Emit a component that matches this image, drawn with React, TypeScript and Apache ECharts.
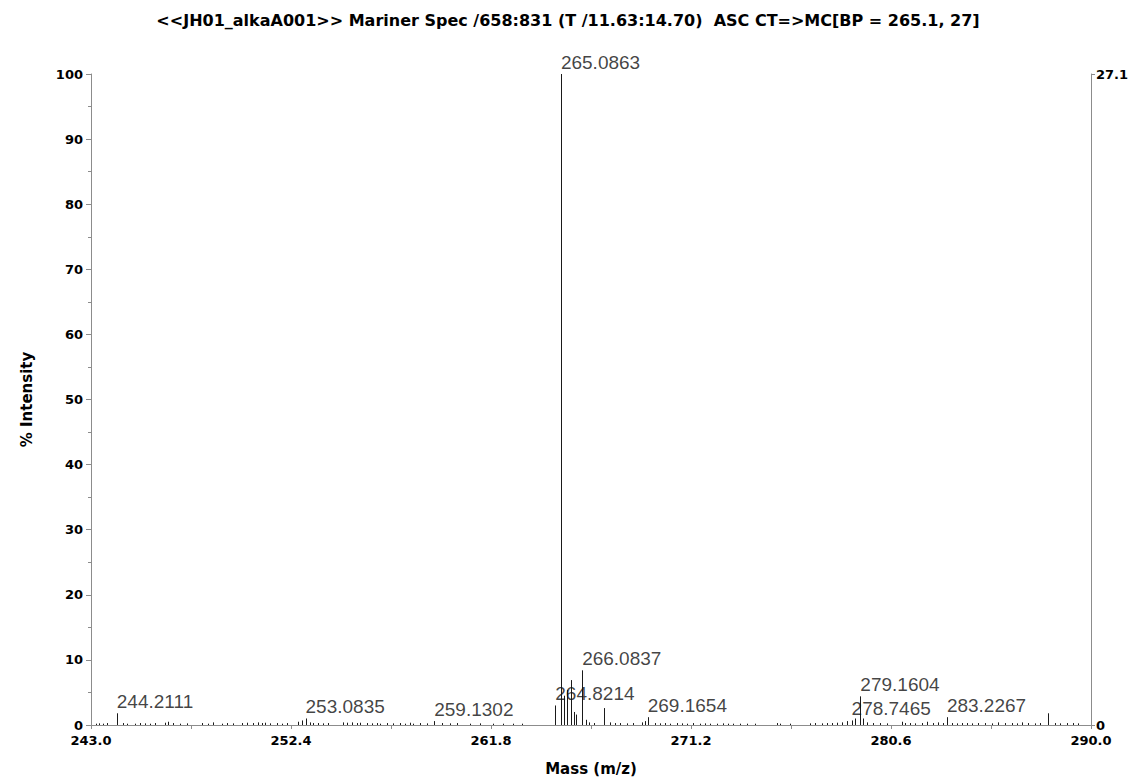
import React, { useEffect, useRef } from "react";
import * as echarts from "echarts";

const titleText =
  "<<JH01_alkaA001>> Mariner Spec /658:831 (T /11.63:14.70)  ASC CT=>MC[BP = 265.1, 27]";

// m/z axis labels and tick marks
const massLabels = [243.0, 252.4, 261.8, 271.2, 280.6, 290.0];
const massTicks = [243.0, 247.7, 252.4, 257.1, 261.8, 266.5, 271.2, 275.9, 280.6, 285.3, 290.0];

// Annotated peaks: [m/z, % intensity]
const labeledPeaks: [number, number][] = [
  [244.2111, 1.8],
  [253.0835, 1.0],
  [259.1302, 0.6],
  [264.8214, 3.0],
  [265.0863, 100],
  [266.0837, 8.4],
  [269.1654, 1.2],
  [278.7465, 0.7],
  [279.1604, 4.4],
  [283.2267, 1.2],
];

// Unlabelled peaks: [m/z, % intensity]
const otherPeaks: [number, number][] = [
  [243.22, 0.2], [243.39, 0.25], [243.58, 0.2], [243.74, 0.3],
  [244.49, 0.3], [244.68, 0.2], [245.07, 0.2], [245.3, 0.3], [245.54, 0.25], [245.77, 0.2],
  [246.01, 0.3], [246.48, 0.35], [246.63, 0.5], [246.87, 0.3], [247.18, 0.2], [247.5, 0.25],
  [248.2, 0.3], [248.51, 0.2], [248.75, 0.4], [249.14, 0.2], [249.38, 0.3], [249.69, 0.25],
  [250.08, 0.3], [250.32, 0.35], [250.63, 0.3], [250.86, 0.4], [251.02, 0.3], [251.18, 0.35],
  [251.41, 0.25], [251.73, 0.3], [251.96, 0.2], [252.2, 0.3], [252.74, 0.5], [252.9, 0.7],
  [253.29, 0.4], [253.45, 0.3], [253.68, 0.3], [253.92, 0.25], [254.15, 0.3], [254.86, 0.4],
  [255.02, 0.35], [255.25, 0.4], [255.49, 0.3], [255.64, 0.35], [255.96, 0.3], [256.19, 0.25],
  [256.43, 0.3], [256.58, 0.2], [256.9, 0.3], [257.21, 0.25], [257.52, 0.3], [257.76, 0.2],
  [257.99, 0.35], [258.15, 0.2], [258.46, 0.3], [258.78, 0.25], [259.48, 0.3], [259.87, 0.25],
  [260.19, 0.3], [260.81, 0.2], [261.28, 0.25], [261.91, 0.2], [262.38, 0.2], [262.85, 0.2],
  [263.24, 0.2],
  [265.24, 4.5], [265.37, 5.4], [265.55, 6.9], [265.7, 2.0], [265.81, 1.6], [266.25, 0.8],
  [266.42, 0.4], [266.63, 0.3], [267.12, 2.6], [267.39, 0.4], [267.63, 0.3], [267.86, 0.3],
  [268.18, 0.25], [268.49, 0.3], [268.88, 0.4], [269.04, 0.6],
  [269.51, 0.3], [269.74, 0.25], [269.98, 0.3], [270.21, 0.2], [270.53, 0.3], [270.76, 0.25],
  [271.0, 0.2], [271.31, 0.3], [271.62, 0.2], [271.86, 0.25], [272.09, 0.2], [272.41, 0.2],
  [272.72, 0.25], [272.95, 0.2], [273.19, 0.2], [273.5, 0.2], [273.82, 0.2], [274.21, 0.2],
  [275.23, 0.3], [275.38, 0.2], [275.85, 0.2], [276.79, 0.25], [277.03, 0.3], [277.34, 0.25],
  [277.58, 0.3], [277.81, 0.3], [278.05, 0.35], [278.28, 0.4], [278.52, 0.6], [278.9, 1.0],
  [279.27, 1.0], [279.46, 0.4], [279.77, 0.3], [280.08, 0.3], [280.4, 0.25], [281.1, 0.5],
  [281.26, 0.3], [281.49, 0.3], [281.73, 0.25], [282.04, 0.3], [282.28, 0.5], [282.59, 0.3],
  [282.82, 0.4], [283.06, 0.3], [283.45, 0.3], [283.69, 0.25], [283.92, 0.3], [284.16, 0.3],
  [284.39, 0.25], [284.7, 0.3], [285.02, 0.3], [285.33, 0.25], [285.64, 0.4], [285.96, 0.3],
  [286.27, 0.3], [286.51, 0.25], [286.74, 0.4], [287.05, 0.3], [287.37, 0.25], [287.6, 0.3],
  [287.99, 1.8], [288.31, 0.3], [288.54, 0.25], [288.86, 0.3], [289.17, 0.3], [289.4, 0.25],
];

const axisColor = "#8c8c8c";
const boldFont = "DejaVu Sans";

export default function App() {
  const ref = useRef<HTMLDivElement>(null);

  useEffect(() => {
    document.body.style.margin = "0";
    const chart = echarts.init(ref.current!, undefined, { renderer: "svg" });

    const sticks = [...otherPeaks, ...labeledPeaks];

    chart.setOption({
      animation: false,
      backgroundColor: "#ffffff",
      title: {
        text: titleText,
        left: "center",
        top: 7,
        textStyle: {
          fontFamily: boldFont,
          fontWeight: "bold",
          fontSize: 16,
          color: "#000",
        },
      },
      grid: { left: 91, right: 45, top: 74, bottom: 57, outerBoundsMode: "none" },
      xAxis: {
        type: "value",
        min: 243,
        max: 290,
        name: "Mass (m/z)",
        nameLocation: "middle",
        nameGap: 36,
        nameTextStyle: { fontFamily: boldFont, fontWeight: "bold", fontSize: 15, color: "#000" },
        splitLine: { show: false },
        axisLine: { show: true, lineStyle: { color: axisColor, width: 1 } },
        axisTick: { show: true, length: 4, customValues: massTicks, lineStyle: { color: axisColor } },
        axisLabel: {
          customValues: massLabels,
          formatter: (v: number) => v.toFixed(1),
          fontFamily: boldFont,
          fontWeight: "bold",
          fontSize: 13,
          lineHeight: 14,
          color: "#000",
          margin: 8,
        },
      },
      yAxis: [
        {
          type: "value",
          min: 0,
          max: 100,
          interval: 10,
          position: "left",
          name: "% Intensity",
          nameLocation: "middle",
          nameGap: 57,
          nameTextStyle: { fontFamily: boldFont, fontWeight: "bold", fontSize: 15, color: "#000" },
          splitLine: { show: false },
          axisLine: { show: true, lineStyle: { color: axisColor, width: 1 } },
          axisTick: { show: true, length: 5, lineStyle: { color: axisColor } },
          minorTick: { show: true, splitNumber: 2, length: 3, lineStyle: { color: axisColor } },
          axisLabel: {
            fontFamily: boldFont,
            fontWeight: "bold",
            fontSize: 13,
            lineHeight: 11,
            color: "#000",
            margin: 8,
          },
        },
        {
          type: "value",
          min: 0,
          max: 27.1,
          interval: 27.1,
          position: "right",
          splitLine: { show: false },
          axisLine: { show: true, lineStyle: { color: axisColor, width: 1 } },
          axisTick: { show: true, length: 4, lineStyle: { color: axisColor } },
          axisLabel: {
            formatter: (v: number) => (v === 0 ? "0" : (Math.round(v * 10) / 10).toFixed(1)),
            fontFamily: boldFont,
            fontWeight: "bold",
            fontSize: 13,
            lineHeight: 11,
            color: "#000",
            margin: 5,
          },
        },
      ],
      series: [
        {
          type: "custom",
          name: "spectrum",
          xAxisIndex: 0,
          yAxisIndex: 0,
          clip: true,
          data: sticks,
          renderItem: (_params: any, api: any) => {
            const mz = api.value(0);
            const pct = api.value(1);
            const base = api.coord([mz, 0]);
            const top = api.coord([mz, pct]);
            const x = Math.round(base[0]) + 0.5;
            return {
              type: "line",
              shape: { x1: x, y1: base[1], x2: x, y2: top[1] },
              style: { stroke: "#1a1a1a", lineWidth: 1 },
            };
          },
        },
        {
          type: "scatter",
          name: "peak labels",
          xAxisIndex: 0,
          yAxisIndex: 0,
          symbolSize: 0,
          silent: true,
          data: labeledPeaks,
          label: {
            show: true,
            position: "top",
            distance: 2,
            align: "left",
            formatter: (p: any) => p.value[0].toFixed(4),
            fontFamily: "Liberation Sans",
            fontSize: 19,
            color: "#111",
          },
        },
      ],
    });

    return () => chart.dispose();
  }, []);

  return (
    <div
      ref={ref}
      style={{ position: "absolute", left: 0, top: 0, width: 1136, height: 782 }}
    />
  );
}
